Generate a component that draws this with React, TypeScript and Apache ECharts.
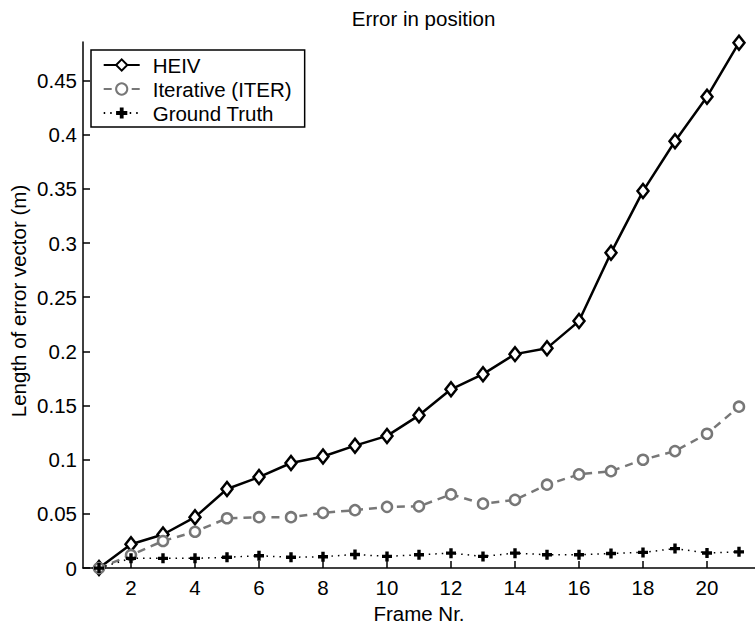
import React, { useEffect, useRef } from "react";
import * as echarts from "echarts";

const frames = [1, 2, 3, 4, 5, 6, 7, 8, 9, 10, 11, 12, 13, 14, 15, 16, 17, 18, 19, 20, 21];
const heiv = [0, 0.022, 0.031, 0.047, 0.073, 0.084, 0.097, 0.103, 0.113, 0.122, 0.141, 0.165, 0.179, 0.1975, 0.203, 0.228, 0.291, 0.348, 0.394, 0.435, 0.485];
const iterative = [0, 0.012, 0.025, 0.0335, 0.046, 0.047, 0.047, 0.051, 0.0535, 0.0565, 0.057, 0.068, 0.0595, 0.063, 0.077, 0.0865, 0.0895, 0.1, 0.108, 0.124, 0.149];
const truth = [0, 0.009, 0.009, 0.009, 0.01, 0.0114, 0.01, 0.0105, 0.0126, 0.0108, 0.0123, 0.0138, 0.0108, 0.0138, 0.0123, 0.0123, 0.0135, 0.0145, 0.018, 0.014, 0.015];
const xTicks = [2, 4, 6, 8, 10, 12, 14, 16, 18, 20];
const yTicks = [0, 0.05, 0.1, 0.15, 0.2, 0.25, 0.3, 0.35, 0.4, 0.45];
const seriesNames = ["HEIV", "Iterative (ITER)", "Ground Truth"];
const titleText = "Error in position";
const xLabel = "Frame Nr.";
const yLabel = "Length of error vector (m)";

const FONT = '"Liberation Sans", Arial, Helvetica, sans-serif';
const FS = 20.5;
const GRAY = "#777777";
const PLUS = "path://M3.3,0H6.7V3.3H10V6.7H6.7V10H3.3V6.7H0V3.3H3.3Z";

const pairs = (ys: number[]) => frames.map((f, i) => [f, ys[i]]);

export default function App() {
  const ref = useRef<HTMLDivElement>(null);
  useEffect(() => {
    if (!ref.current) return;
    const chart = echarts.init(ref.current, undefined, { renderer: "svg" });
    const axisText = { fontFamily: FONT, fontSize: FS, color: "#000" };
    chart.setOption({
      animation: false,
      backgroundColor: "#fff",
      title: {
        text: titleText,
        left: 423.5,
        textAlign: "center",
        top: 8,
        padding: 0,
        textStyle: { ...axisText, fontWeight: "normal" },
      },
      grid: { left: 83, top: 42, right: -9, bottom: 49.7, containLabel: false },
      xAxis: {
        type: "value",
        min: 0.5,
        max: 21.5,
        name: xLabel,
        nameLocation: "middle",
        nameGap: 39,
        nameTextStyle: { ...axisText, verticalAlign: "middle" },
        axisLine: { show: true, onZero: false, lineStyle: { color: "#000", width: 1.5 } },
        axisTick: { show: true, inside: true, length: 7, customValues: xTicks, lineStyle: { color: "#000", width: 1.5 } },
        axisLabel: { ...axisText, customValues: xTicks, margin: 9 },
        splitLine: { show: false },
      },
      yAxis: {
        type: "value",
        min: 0,
        max: 0.4856,
        axisLine: { show: true, onZero: false, lineStyle: { color: "#000", width: 1.5 } },
        axisTick: { show: true, inside: true, length: 7, customValues: yTicks, lineStyle: { color: "#000", width: 1.5 } },
        axisLabel: {
          ...axisText,
          customValues: yTicks,
          margin: 6,
          formatter: (v: number) => String(Number(v.toFixed(2))),
        },
        splitLine: { show: false },
      },
      legend: {
        orient: "vertical",
        left: 91,
        top: 50,
        backgroundColor: "#fff",
        borderColor: "#000",
        borderWidth: 1.5,
        borderRadius: 0,
        padding: [3, 13, 2, 11.7],
        itemGap: 0,
        itemWidth: 36,
        itemHeight: 14,
        data: seriesNames,
        textStyle: { ...axisText, lineHeight: 24, padding: [0, 0, 0, 8] },
      },
      graphic: [
        {
          type: "text",
          x: 18,
          y: 301,
          rotation: Math.PI / 2,
          style: {
            text: yLabel,
            font: `${FS}px ${FONT}`,
            fill: "#000",
            align: "center",
            verticalAlign: "middle",
          },
        },
      ],
      series: [
        {
          name: seriesNames[0],
          type: "line",
          data: pairs(heiv),
          clip: false,
          symbol: "diamond",
          symbolSize: [11, 14],
          lineStyle: { color: "#000", width: 2.5, type: "solid" },
          itemStyle: { color: "#fff", borderColor: "#000", borderWidth: 2.5 },
          z: 2,
        },
        {
          name: seriesNames[1],
          type: "line",
          data: pairs(iterative),
          clip: false,
          symbol: "circle",
          symbolSize: 10,
          lineStyle: { color: GRAY, width: 2.5, type: [8, 6] },
          itemStyle: { color: "#fff", borderColor: GRAY, borderWidth: 2.5 },
          z: 3,
        },
        {
          name: seriesNames[2],
          type: "line",
          data: pairs(truth),
          clip: false,
          symbol: PLUS,
          symbolSize: 10,
          lineStyle: { color: "#000", width: 1.5, type: [1.5, 5] },
          itemStyle: { color: "#000", borderWidth: 0 },
          z: 4,
        },
      ],
    });
    return () => chart.dispose();
  }, []);
  return <div ref={ref} style={{ position: "fixed", left: 0, top: 0, width: 755, height: 629 }} />;
}
